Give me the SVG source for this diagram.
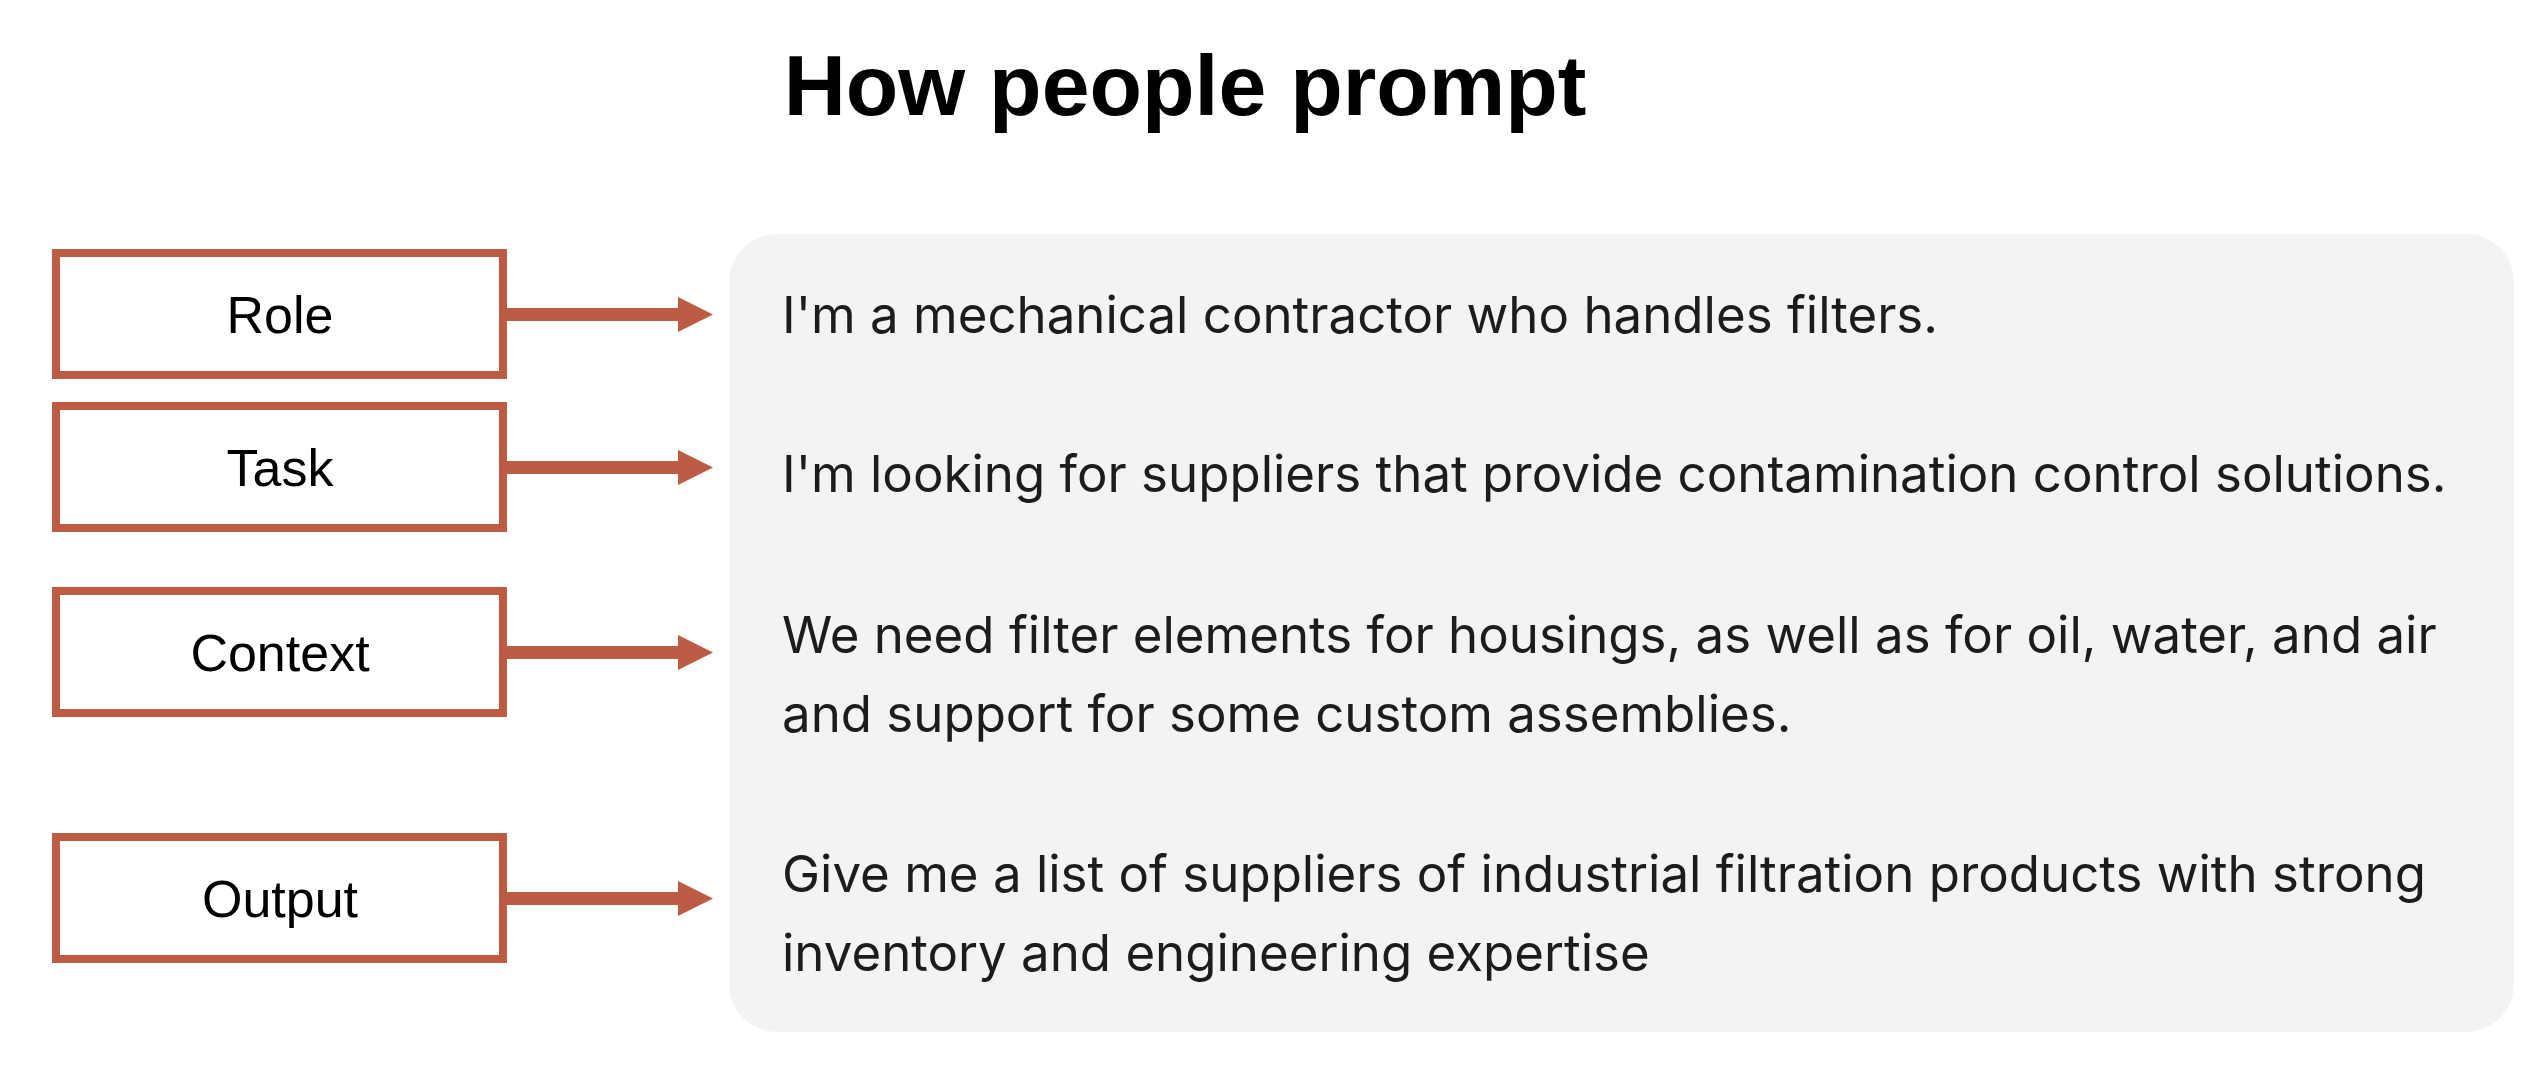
<svg xmlns="http://www.w3.org/2000/svg" width="2532" height="1080" viewBox="0 0 2532 1080">
<defs>
<style>
.box{fill:#ffffff;stroke:#bd5c45;stroke-width:8}
.lbl{font-family:"Liberation Sans",Arial,sans-serif;font-size:52px;fill:#000;text-anchor:middle}
.title{font-family:"Liberation Sans",Arial,sans-serif;font-size:86px;font-weight:bold;fill:#000;text-anchor:middle}
.msg{font-family:Inter,"Liberation Sans",sans-serif;font-size:51px;fill:#1c1c1c}
.shaft{fill:#bd5c45}
</style>
</defs>
<rect width="2532" height="1080" fill="#ffffff"/>
<text class="title" x="1185" y="115">How people prompt</text>
<g id="panel">
<rect x="729" y="234" width="1785" height="798" rx="48" ry="48" fill="#f3f3f3"/>
<text class="msg" x="782" y="333">I'm a mechanical contractor who handles filters.</text>
<text class="msg" x="782" y="492">I'm looking for suppliers that provide contamination control solutions.</text>
<text class="msg" x="782" y="653">We need filter elements for housings, as well as for oil, water, and air</text>
<text class="msg" x="782" y="732">and support for some custom assemblies.</text>
<text class="msg" x="782" y="892">Give me a list of suppliers of industrial filtration products with strong</text>
<text class="msg" x="782" y="971">inventory and engineering expertise</text>
</g>
<g id="role">
<rect class="box" x="56" y="253" width="447" height="122"/>
<text class="lbl" x="280" y="333">Role</text>
</g>
<g id="task">
<rect class="box" x="56" y="406" width="447" height="122"/>
<text class="lbl" x="280" y="486">Task</text>
</g>
<g id="context">
<rect class="box" x="56" y="591" width="447" height="122"/>
<text class="lbl" x="280" y="671">Context</text>
</g>
<g id="output">
<rect class="box" x="56" y="837" width="447" height="122"/>
<text class="lbl" x="280" y="917">Output</text>
</g>
<g id="connectors">
<path class="shaft" d="M507 308 H678 V297 L713 314.5 L678 332 V321 H507 Z"/>
<path class="shaft" d="M507 461 H678 V450 L713 467.5 L678 485 V474 H507 Z"/>
<path class="shaft" d="M507 646 H678 V635 L713 652.5 L678 670 V659 H507 Z"/>
<path class="shaft" d="M507 892 H678 V881 L713 898.5 L678 916 V905 H507 Z"/>
</g>
</svg>
